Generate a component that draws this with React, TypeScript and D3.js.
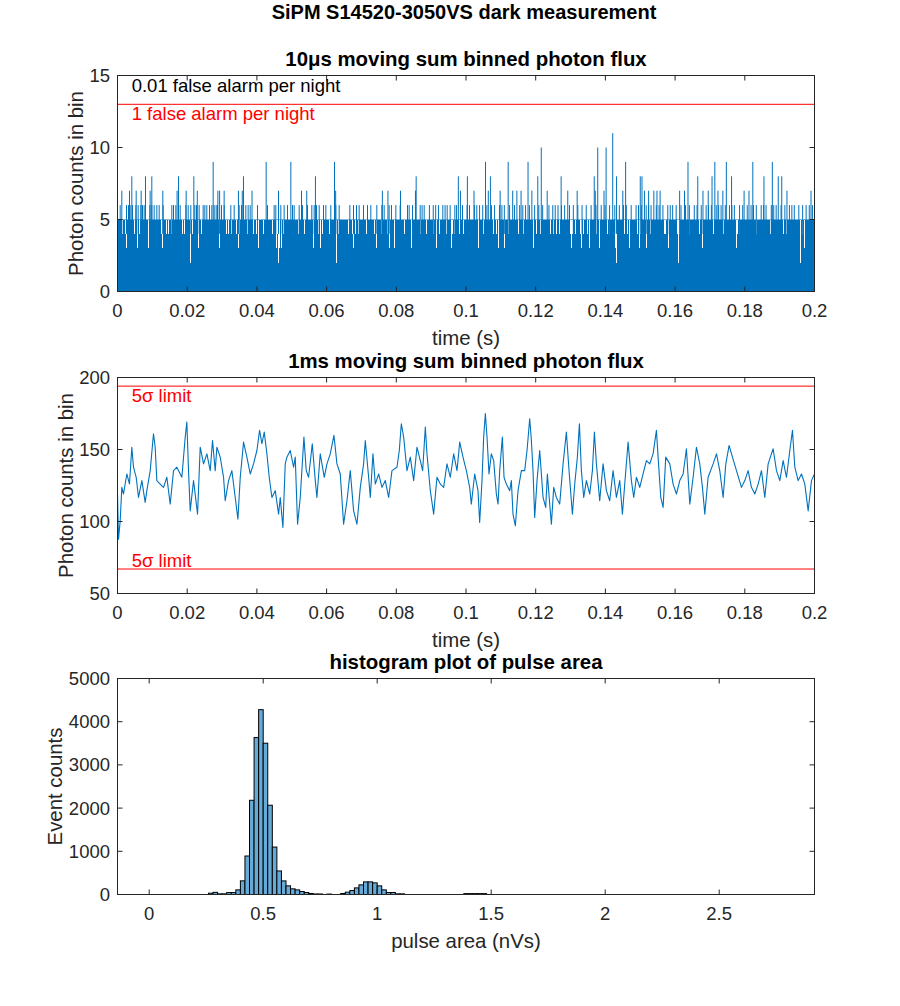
import React from 'react';
import * as d3 from 'd3';

const W = 900;
const H = 1006;
const FONT = '"Liberation Sans", Arial, Helvetica, sans-serif';
const AX = '#262626';
const BLUE = '#0072BD';

// ---------- shared time axis ----------
const timeTicks = [0, 0.02, 0.04, 0.06, 0.08, 0.1, 0.12, 0.14, 0.16, 0.18, 0.2];
const timeTickLabels = ['0', '0.02', '0.04', '0.06', '0.08', '0.1', '0.12', '0.14', '0.16', '0.18', '0.2'];

// ---------- panel 1: 10us moving sum ----------
const fluxYTicks = [0, 5, 10, 15];
const fluxYTickLabels = ['0', '5', '10', '15'];
const fluxBandLevel = 5; // dense band reaches 5 counts
const fluxLowLevel = 4; // columns in a gap reach only 4 counts
// times (ms) where the column reaches only 4
const fluxGapsMs = [
  1.43, 2.1, 4.78, 6.22, 8.61, 12.43, 13.87, 14.35, 15.3, 18.65, 19.13, 21.52, 23.91, 29.17, 31.09,
  31.76, 32.52, 33.95, 34.91, 37.11, 38.74, 39.69, 41.61, 44.19, 45.91, 46.39, 46.87, 47.35, 51.65,
  53.56, 57.39, 58.82, 60.74, 63.13, 66.0, 67.43, 68.1, 68.87, 71.26, 73.65, 75.56, 77.47, 79.39,
  82.26, 84.17, 86.7, 88.5, 90.5, 92.3, 94.3, 96.0, 96.7, 98.0, 99.1, 101.0, 104.8, 107.7, 108.7,
  112.0, 114.9, 116.4, 120.1, 121.3, 124.0, 124.9, 125.9, 126.8, 129.9, 130.5, 131.4, 132.6, 133.7,
  134.7, 135.2, 137.3, 140.4, 141.0, 143.1, 145.2, 146.2, 146.9, 149.0, 149.8, 152.7, 156.7, 157.2,
  160.5, 161.1, 164.1, 167.0, 170.8, 173.7, 177.7, 178.3, 183.3, 187.1, 191.1, 191.7, 195.9, 196.5,
];
// dips: [ms, counts]
const fluxDips: [number, number][] = [
  [2.5, 3], [5.6, 3], [8.7, 3], [12.7, 3], [20.9, 2], [23.05, 3], [29.0, 3], [34.6, 3], [40.2, 3],
  [45.5, 3], [46.0, 2], [46.3, 3], [47.0, 3], [56.0, 3], [58.1, 3], [62.8, 2], [67.5, 3], [74.2, 3],
  [78.0, 3], [79.4, 3], [84.3, 3], [91.4, 3], [95.7, 3], [103.4, 3], [109.1, 3], [111.0, 3],
  [119.2, 3], [130.2, 3], [133.0, 3], [135.2, 3], [138.3, 3], [142.8, 3], [143.1, 2], [146.9, 3],
  [149.6, 3], [151.7, 3], [157.9, 3], [160.8, 2], [167.6, 3], [177.5, 3], [195.9, 2], [196.9, 3],
];
const fluxSpikes6Ms = [
  0.77, 2.58, 3.16, 3.63, 4.3, 5.26, 5.93, 6.7, 7.17, 7.65, 9.28, 9.85, 10.52, 11.29, 11.96, 13.1,
  15.59, 16.07, 16.74, 17.5, 17.98, 19.61, 20.28, 21.04, 22.19, 22.67, 23.43, 24.58, 25.06, 25.63,
  26.4, 27.07, 27.74, 28.31, 28.69, 29.84, 30.61, 32.52, 33.48, 34.91, 35.58, 36.16, 36.82, 37.49,
  38.07, 40.17, 43.04, 44.95, 45.43, 46.87, 47.82, 48.78, 50.22, 50.69, 52.13, 53.08, 54.52, 55.76,
  56.43, 57.1, 57.87, 59.11, 59.78, 61.21, 62.65, 63.61, 66.67, 67.72, 68.58, 69.34, 70.59, 71.74,
  72.69, 74.41, 75.85, 76.52, 77.95, 78.62, 79.87, 81.11, 83.21, 83.69, 84.65, 86.85, 87.4, 88.0,
  89.5, 90.6, 91.3, 92.1, 93.35, 94.0, 94.6, 95.45, 96.8, 97.3, 99.0, 100.3, 101.0, 102.4, 103.1,
  103.9, 104.8, 106.0, 107.3, 108.2, 109.6, 110.3, 111.0, 112.5, 113.9, 115.4, 116.3, 117.1, 118.2,
  119.7, 120.9, 122.0, 123.8, 124.9, 125.6, 126.4, 127.4, 128.3, 129.7, 130.8, 132.1, 133.3, 134.5,
  135.9, 137.3, 138.8, 139.9, 141.2, 142.7, 144.0, 145.2, 146.0, 147.4, 148.8, 149.5, 150.3, 151.7,
  152.4, 153.1, 154.6, 155.4, 156.5, 157.9, 158.6, 159.3, 160.3, 161.7, 163.0, 164.1, 165.5, 166.3,
  167.5, 168.9, 169.6, 170.4, 171.8, 172.5, 173.2, 174.4, 175.6, 176.3, 177.0, 178.5, 179.4, 180.7,
  181.8, 182.5, 183.3, 184.7, 185.4, 186.1, 187.6, 188.3, 189.0, 190.4, 191.5, 192.8, 193.5, 194.2,
  195.5, 196.6, 197.6, 198.5, 199.4,
];
const fluxSpikes7Ms = [
  1.24, 3.44, 5.36, 6.79, 9.37, 13.0, 17.1, 19.7, 22.9, 28.8, 29.3, 30.6, 34.7, 35.8, 38.6, 46.2,
  52.8, 54.3, 62.6, 76.0, 77.6, 81.2, 85.5, 98.4, 102.3, 106.4, 109.8, 113.4, 114.6, 115.8, 118.9,
  123.3, 129.2, 131.9, 137.1, 139.6, 145.0, 151.2, 152.4, 153.9, 154.8, 155.7, 161.3, 162.7, 168.0,
  169.5, 172.3, 173.7, 179.8, 181.2, 192.1, 199.0,
];
const fluxSpikes8Ms = [
  4.11, 8.03, 9.85, 17.5, 21.9, 36.15, 56.8, 85.7, 97.8, 100.4, 107.0, 120.6, 127.3, 136.8, 143.2,
  150.0, 150.5, 166.5, 170.6, 176.2, 185.5, 189.6, 190.6,
];
const fluxSpikesHigh: [number, number][] = [
  [27.45, 9], [42.66, 9], [49.74, 9], [62.27, 9], [105.6, 9], [112.1, 9], [117.8, 9], [145.8, 9],
  [163.7, 9], [171.4, 9], [174.7, 9], [182.3, 9], [187.9, 9], [121.6, 10], [137.8, 10], [140.2, 10],
  [142.1, 11],
];
const falseAlarmRare = 15; // 0.01 false alarm per night
const falseAlarmOne = 13; // 1 false alarm per night

// ---------- panel 2: 1ms moving sum ----------
const sumYTicks = [50, 100, 150, 200];
const sumYTickLabels = ['50', '100', '150', '200'];
const sigmaUpper = 194;
const sigmaLower = 67;
// [ms, counts]
const sumTrace: [number, number][] = [
  [0, 119.1], [0.29, 87.7], [0.77, 100.5], [1.24, 123.7], [1.72, 119.1], [2.68, 133], [3.44, 126],
  [4.11, 151.6], [4.59, 137.7], [5.36, 130.7], [6.03, 116.7], [6.99, 128.4], [7.94, 113.3],
  [8.42, 121.4], [9.38, 135.3], [10.33, 160.9], [10.81, 151.6], [11.29, 128.4], [12.25, 126],
  [13.21, 123.7], [14.16, 130.7], [15.12, 112.1], [16.08, 135.3], [17.03, 137.7], [18.47, 130.7],
  [19.43, 158.6], [19.9, 169.1], [20.38, 135.3], [20.86, 107.4], [21.82, 128.4], [22.97, 105.1],
  [23.73, 151.6], [24.69, 140], [25.65, 147], [26.6, 135.3], [27.27, 156.3], [28.04, 135.3],
  [28.52, 151.6], [29.47, 144.7], [30.43, 130.7], [30.91, 114.4], [31.87, 128.4], [32.82, 135.3],
  [33.78, 116.7], [34.55, 101.6], [35.22, 130.7], [36.17, 155.1], [37.13, 144.7], [38.09, 133],
  [39.04, 140], [40.0, 149.3], [40.77, 163.3], [41.44, 154], [42.11, 162.1], [42.87, 147],
  [43.54, 130.7], [44.31, 116.7], [45.26, 121.4], [46.22, 105.1], [46.7, 116.7], [47.46, 95.8],
  [48.13, 140], [48.61, 144.7], [49.57, 149.3], [50.53, 137.7], [51.0, 144.7], [51.67, 98.1],
  [52.44, 116.7], [53.49, 158.6], [54.16, 135.3], [54.83, 130.7], [55.89, 154], [56.75, 128.4],
  [57.22, 116.7], [58.18, 147], [59.33, 130.7], [60.1, 140], [61.05, 147], [62.11, 159.8],
  [62.97, 140], [63.92, 133], [64.88, 98.1], [65.84, 114.4], [66.79, 135.3], [67.75, 107.4],
  [68.71, 98.1], [69.67, 123.7], [70.62, 140], [71.1, 156.3], [72.06, 130.7], [72.54, 116.7],
  [73.3, 147], [73.97, 126], [74.93, 133], [75.89, 123.7], [76.84, 128.4], [77.8, 116.7],
  [78.76, 135.3], [80.19, 137.7], [80.86, 149.3], [81.44, 167.9], [82.11, 158.6], [83.06, 135.3],
  [84.02, 144.7], [84.98, 128.4], [85.93, 151.6], [86.89, 142.3], [87.56, 135.3], [88.33, 165.6],
  [88.8, 147], [89.76, 121.4], [90.72, 105.1], [91.67, 130.7], [92.63, 126], [93.59, 123.7],
  [94.54, 140], [95.5, 130.7], [96.46, 147], [97.42, 135.3], [98.2, 155.1], [99.14, 144.7],
  [100.1, 135.3], [101.05, 123.7], [101.53, 112.1], [102.49, 133], [103.44, 121.4], [103.92, 99.3],
  [104.59, 128.4], [105.07, 158.6], [105.55, 174.9], [106.03, 158.6], [106.6, 133], [107.27, 147],
  [107.94, 142.3], [108.71, 119.1], [109.19, 112.1], [109.67, 135.3], [110.43, 158.6],
  [110.91, 130.7], [111.58, 126], [112.54, 121.4], [113.01, 128.4], [113.49, 105.1], [114.16, 97],
  [114.93, 121.4], [115.89, 135.3], [116.84, 135.3], [117.51, 149.3], [118.28, 171.4],
  [118.76, 156.3], [119.23, 135.3], [119.71, 102.8], [120.38, 128.4], [121.15, 149.3],
  [122.11, 116.7], [122.87, 109.8], [123.35, 133], [124.02, 112.1], [124.5, 98.1], [125.17, 123.7],
  [125.93, 116.7], [126.89, 112.1], [127.85, 140], [128.8, 162.1], [129.57, 135.3], [130.53, 105.1],
  [131.2, 126], [131.96, 144.7], [132.54, 167.9], [133.11, 135.3], [133.78, 116.7], [134.55, 128.4],
  [135.5, 119.1], [136.27, 135.3], [136.84, 162.1], [137.42, 140], [138.37, 114.4], [139.33, 140],
  [140.29, 121.4], [141.24, 114.4], [142.2, 135.3], [143.16, 116.7], [144.11, 128.4], [144.88, 105.1],
  [145.55, 126], [146.51, 155.1], [147.46, 128.4], [148.13, 116.7], [148.9, 130.7], [149.86, 123.7],
  [150.81, 133], [151.77, 142.3], [152.73, 140], [153.68, 147], [154.64, 163.3], [155.12, 144.7],
  [155.89, 116.7], [156.56, 109.8], [157.32, 144.7], [158.47, 140], [159.43, 126], [160.38, 119.1],
  [161.34, 128.4], [162.3, 133], [163.25, 150.5], [164.21, 112.1], [165.17, 130.7], [166.12, 151.6],
  [167.08, 140], [167.85, 123.7], [168.52, 105.1], [169.47, 130.7], [170.91, 140], [171.87, 147],
  [172.82, 135.3], [173.78, 116.7], [174.55, 140], [175.5, 152.8], [176.46, 144.7], [177.61, 135.3],
  [179.04, 123.7], [180.0, 128.4], [180.96, 135.3], [181.91, 123.7], [182.87, 119.1], [183.83, 126],
  [184.78, 135.3], [185.74, 116.7], [186.7, 140], [188.13, 150.5], [189.09, 135.3], [190.05, 128.4],
  [191.0, 142.3], [191.96, 130.7], [192.92, 149.3], [193.68, 163.3], [194.35, 137.7],
  [195.31, 128.4], [196.27, 133], [197.22, 126], [198.18, 107.4], [199.14, 128.4], [200.0, 133],
];

// ---------- panel 3: histogram ----------
const histFirstEdge = 0.26;
const histBinWidth = 0.02;
const histCounts = [
  30, 50, 15, 15, 45, 45, 107, 316, 891, 2181, 3633, 4279, 3502, 2066, 1098, 545, 315, 200, 131, 107,
  69, 46, 23, 12, 12, 0, 10, 0, 0, 23, 54, 92, 153, 223, 292, 292, 269, 200, 107, 46, 46, 15, 15, 0,
  0, 0, 0, 0, 0, 0, 0, 0, 0, 0, 0, 0, 20, 20, 20, 20, 20,
];
const histXDomain = [-0.139, 2.918];
const histXTicks = [0, 0.5, 1, 1.5, 2, 2.5];
const histXTickLabels = ['0', '0.5', '1', '1.5', '2', '2.5'];
const histYTicks = [0, 1000, 2000, 3000, 4000, 5000];
const histYTickLabels = ['0', '1000', '2000', '3000', '4000', '5000'];

// ---------- layout ----------
const LEFT = 117.5;
const RIGHT = 814.5;
const PH = 216;
const TOPS = [75.5, 377.5, 678.5];
const TICK_FS = 18.5;
const LABEL_FS = 20.4;
const TICK_LEN = 5;

type Scale = d3.ScaleLinear<number, number>;

function Frame(props: {
  x: Scale; y: Scale; xTicks: number[]; xLabels: string[]; yTicks: number[]; yLabels: string[];
  title: string; xTitle: string; yTitle: string; yTitleX: number;
}) {
  const { x, y, xTicks, xLabels, yTicks, yLabels, title, xTitle, yTitle, yTitleX } = props;
  const [l, r] = x.range();
  const [b, t] = y.range();
  const cx = (l + r) / 2;
  const cy = (b + t) / 2;
  return (
    <g fontFamily={FONT}>
      <rect x={l} y={t} width={r - l} height={b - t} fill="none" stroke={AX} strokeWidth={1} />
      {xTicks.map((v, i) => (
        <g key={'x' + i}>
          <line x1={x(v)} x2={x(v)} y1={b} y2={b - TICK_LEN} stroke={AX} />
          <line x1={x(v)} x2={x(v)} y1={t} y2={t + TICK_LEN} stroke={AX} />
          <text x={x(v)} y={b + 25.5} textAnchor="middle" fontSize={TICK_FS} fill={AX}>{xLabels[i]}</text>
        </g>
      ))}
      {yTicks.map((v, i) => (
        <g key={'y' + i}>
          <line x1={l} x2={l + TICK_LEN} y1={y(v)} y2={y(v)} stroke={AX} />
          <line x1={r} x2={r - TICK_LEN} y1={y(v)} y2={y(v)} stroke={AX} />
          <text x={110} y={y(v) + TICK_FS * 0.35} textAnchor="end" fontSize={TICK_FS} fill={AX}>{yLabels[i]}</text>
        </g>
      ))}
      <text x={cx} y={b + 53} textAnchor="middle" fontSize={LABEL_FS} fill={AX}>{xTitle}</text>
      <text transform={`translate(${yTitleX},${cy}) rotate(-90)`} textAnchor="middle" fontSize={LABEL_FS} fill={AX}>{yTitle}</text>
      <text x={cx} y={t - 10} textAnchor="middle" fontSize={LABEL_FS} fontWeight="bold" fill="#000">{title}</text>
    </g>
  );
}

export default function App() {
  // panel 1
  const x1 = d3.scaleLinear().domain([0, 0.2]).range([LEFT, RIGHT]);
  const y1 = d3.scaleLinear().domain([0, 15]).range([TOPS[0] + PH, TOPS[0]]);
  const xm = (ms: number) => x1(ms / 1000);
  const snap = (v: number) => Math.round(v) + 0.5;

  const gapPath = fluxGapsMs.map((ms) => `M${snap(xm(ms))},${y1(fluxBandLevel)}V${y1(fluxLowLevel)}`).join('');
  const dipPath = fluxDips.map(([ms, h]) => `M${snap(xm(ms))},${y1(fluxBandLevel)}V${y1(h)}`).join('');
  const spikeList: [number, number][] = [
    ...fluxSpikes6Ms.map((m) => [m, 6] as [number, number]),
    ...fluxSpikes7Ms.map((m) => [m, 7] as [number, number]),
    ...fluxSpikes8Ms.map((m) => [m, 8] as [number, number]),
    ...fluxSpikesHigh,
  ];
  const spikePath = spikeList.map(([ms, h]) => `M${xm(ms)},${y1(fluxLowLevel)}V${y1(h)}`).join('');

  // panel 2
  const x2 = d3.scaleLinear().domain([0, 0.2]).range([LEFT, RIGHT]);
  const y2 = d3.scaleLinear().domain([50, 200]).range([TOPS[1] + PH, TOPS[1]]);
  const line2 = d3.line<[number, number]>().x((d) => x2(d[0] / 1000)).y((d) => y2(d[1]))(sumTrace) || '';

  // panel 3
  const x3 = d3.scaleLinear().domain(histXDomain).range([LEFT, RIGHT]);
  const y3 = d3.scaleLinear().domain([0, 5000]).range([TOPS[2] + PH, TOPS[2]]);
  const bins = histCounts
    .map((c, i) => ({ x0: histFirstEdge + i * histBinWidth, x1: histFirstEdge + (i + 1) * histBinWidth, c }))
    .filter((d) => d.c > 0);

  return (
    <svg width={W} height={H} style={{ position: 'absolute', left: 0, top: 0, background: '#fff' }}>
      <rect x={0} y={0} width={W} height={H} fill="#fff" />
      <text x={464} y={18.5} textAnchor="middle" fontFamily={FONT} fontSize={20} fontWeight="bold" fill="#000">
        SiPM S14520-3050VS dark measurement
      </text>

      {/* Panel 1 */}
      <rect x={x1(0)} y={y1(fluxBandLevel)} width={x1(0.2) - x1(0)} height={y1(0) - y1(fluxBandLevel)} fill={BLUE} />
      <path d={gapPath} stroke="#fff" strokeWidth={1.4} fill="none" shapeRendering="crispEdges" />
      <path d={dipPath} stroke="#fff" strokeWidth={1} fill="none" shapeRendering="crispEdges" />
      <path d={spikePath} stroke={BLUE} strokeWidth={1} fill="none" />
      <line x1={x1(0)} x2={x1(0.2)} y1={y1(falseAlarmRare)} y2={y1(falseAlarmRare)} stroke="#000" strokeWidth={1} />
      <line x1={x1(0)} x2={x1(0.2)} y1={y1(falseAlarmOne)} y2={y1(falseAlarmOne)} stroke="#FF0000" strokeWidth={1} />
      <text x={131.7} y={y1(falseAlarmRare) + 16.2} fontFamily={FONT} fontSize={TICK_FS} fill="#000">0.01 false alarm per night</text>
      <text x={131.7} y={y1(falseAlarmOne) + 15.5} fontFamily={FONT} fontSize={TICK_FS} fill="#FF0000">1 false alarm per night</text>
      <Frame x={x1} y={y1} xTicks={timeTicks} xLabels={timeTickLabels} yTicks={fluxYTicks} yLabels={fluxYTickLabels}
        title="10μs moving sum binned photon flux" xTitle="time (s)" yTitle="Photon counts in bin" yTitleX={83} />

      {/* Panel 2 */}
      <path d={line2} stroke={BLUE} strokeWidth={1.1} fill="none" strokeLinejoin="round" />
      <line x1={x2(0)} x2={x2(0.2)} y1={y2(sigmaUpper)} y2={y2(sigmaUpper)} stroke="#FF0000" strokeWidth={1} />
      <line x1={x2(0)} x2={x2(0.2)} y1={y2(sigmaLower)} y2={y2(sigmaLower)} stroke="#FF0000" strokeWidth={1} />
      <text x={131.7} y={y2(sigmaUpper) + 15.6} fontFamily={FONT} fontSize={TICK_FS} fill="#FF0000">5σ limit</text>
      <text x={131.7} y={y2(sigmaLower) - 2.5} fontFamily={FONT} fontSize={TICK_FS} fill="#FF0000">5σ limit</text>
      <Frame x={x2} y={y2} xTicks={timeTicks} xLabels={timeTickLabels} yTicks={sumYTicks} yLabels={sumYTickLabels}
        title="1ms moving sum binned photon flux" xTitle="time (s)" yTitle="Photon counts in bin" yTitleX={73} />

      {/* Panel 3 */}
      {bins.map((d, i) => (
        <rect key={i} x={x3(d.x0)} y={y3(d.c)} width={x3(d.x1) - x3(d.x0)} height={y3(0) - y3(d.c)}
          fill="#66AAD7" stroke="#000" strokeWidth={1} />
      ))}
      <Frame x={x3} y={y3} xTicks={histXTicks} xLabels={histXTickLabels} yTicks={histYTicks} yLabels={histYTickLabels}
        title="histogram plot of pulse area" xTitle="pulse area (nVs)" yTitle="Event counts" yTitleX={62} />
    </svg>
  );
}
